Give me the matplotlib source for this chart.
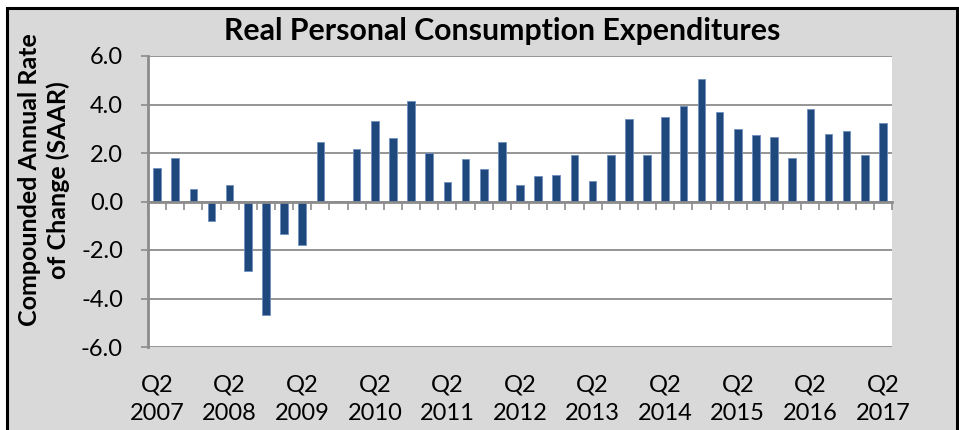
import numpy as np
import matplotlib
matplotlib.use("Agg")
import matplotlib.pyplot as plt
from matplotlib.patches import Rectangle
from matplotlib.ticker import FixedLocator, FormatStrFormatter

### DATOS
### ------------------

# trimestres 2007Q2 .. 2017Q2
quarters = [f"{y} Q{q}" for y in range(2007, 2018) for q in range(1, 5)][1:42]
pce = [1.4, 1.8, 0.5, -0.8, 0.7, -2.85, -4.7, -1.35, -1.8, 2.45,
       0.0, 2.15, 3.3, 2.6, 4.15,
       2.0, 0.8, 1.75, 1.35, 2.45, 0.7, 1.05, 1.1, 1.9, 0.85, 1.9, 3.4, 1.9, 3.5,
       3.95, 5.05, 3.7, 3.0, 2.75, 2.65, 1.8, 3.8, 2.8, 2.9, 1.9, 3.25]
label_years = list(range(2007, 2018))
yticks = [-6.0, -4.0, -2.0, 0.0, 2.0, 4.0, 6.0]

FONT = "Lato"
GRAY = "#8c8c8c"
BLUE = "#1F497D"

### FIGURA
### ------------------

fig = plt.figure(figsize=(9.59, 4.30), dpi=100, facecolor="white")
W, H = 959.0, 430.0

# marco gris con borde negro
fig.patches.append(Rectangle((7 / W, -0.05), 950 / W, 1.05 - 8.3 / H,
                             transform=fig.transFigure, facecolor="#d9d9d9",
                             edgecolor="black", linewidth=2.2, zorder=-10))

ax = fig.add_axes([148 / W, 1 - 347 / H, (892 - 148) / W, (347 - 56) / H])
ax.set_facecolor("white")

x = np.arange(len(pce))
ax.bar(x, pce, width=0.42, color=BLUE, edgecolor="#6f8fbf", linewidth=0.6, zorder=3)

ax.set_xlim(-0.5, len(pce) - 0.5)
ax.set_ylim(-6, 6)
ax.set_yticks(yticks)
ax.yaxis.set_major_formatter(FormatStrFormatter("%.1f"))
ax.grid(axis="y", color=GRAY, linewidth=1.3, zorder=1)
ax.set_axisbelow(True)

for s in ["top", "right"]:
    ax.spines[s].set_visible(False)
ax.spines["left"].set_color(GRAY)
ax.spines["left"].set_linewidth(2)
ax.spines["bottom"].set_position(("data", 0))
ax.spines["bottom"].set_color(GRAY)
ax.spines["bottom"].set_linewidth(2)
ax.spines["bottom"].set_zorder(4)

# marcas entre trimestres sobre el eje cero
ax.xaxis.set_major_locator(FixedLocator(np.arange(len(pce) + 1) - 0.5))
ax.tick_params(axis="x", which="major", direction="out", length=6, width=1.2,
               color=GRAY, labelbottom=False)
ax.tick_params(axis="y", direction="out", length=5, width=1.2, color=GRAY,
               pad=13, labelsize=17)
for t in ax.get_yticklabels():
    t.set_fontfamily(FONT)

# etiquetas Q2 abajo
q2_pos = [i for i, q in enumerate(quarters) if q.endswith("Q2")]
sec = ax.secondary_xaxis(0)
sec.set_xticks(q2_pos)
sec.set_xticklabels([f"Q2\n{y}" for y in label_years], fontsize=17,
                    fontfamily=FONT, linespacing=1.45)
sec.tick_params(length=0, pad=20)
sec.spines["bottom"].set_visible(False)

fig.text(502 / W, 1 - 31 / H, "Real Personal Consumption Expenditures",
         ha="center", va="center", fontsize=21.8, fontweight="bold", fontfamily=FONT)
fig.text(44 / W, 1 - 180 / H, "Compounded Annual Rate\nof Change (SAAR)",
         ha="center", va="center", rotation=90, fontsize=18, fontweight="bold",
         fontfamily=FONT, linespacing=1.3)

fig.savefig("out.png", dpi=100, facecolor=fig.get_facecolor())
